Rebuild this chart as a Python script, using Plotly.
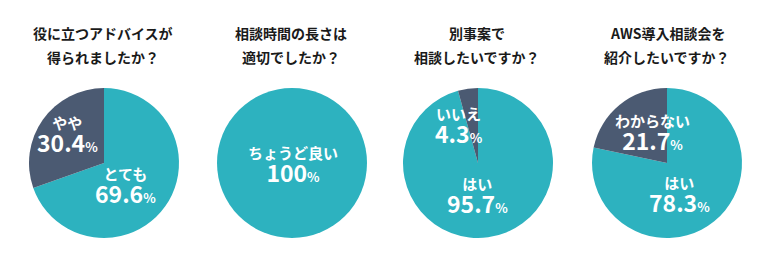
import plotly.graph_objects as go

# ---- data ----
title_line1 = ["役に立つアドバイスが", "相談時間の長さは", "別事案で", "AWS導入相談会を"]
title_line2 = ["得られましたか？", "適切でしたか？", "相談したいですか？", "紹介したいですか？"]
labels = [
    ["とても", "やや"],
    ["ちょうど良い"],
    ["はい", "いいえ"],
    ["はい", "わからない"],
]
values = [
    [69.6, 30.4],
    [100],
    [95.7, 4.3],
    [78.3, 21.7],
]
value_text = [
    ["69.6", "30.4"],
    ["100"],
    ["95.7", "4.3"],
    ["78.3", "21.7"],
]

# ---- style / layout ----
W, H = 760, 260
TEAL = "#2DB2BF"
SLATE = "#4B5A72"
FONT = "Noto Sans CJK JP"
centers_x = [104, 292, 478, 667]
center_y = 163
R = 75
title_x = [103, 291, 477, 667]
# label block centre positions (pixels) per slice
label_pos = [
    [(126, 186), (67, 135)],
    [(293, 165)],
    [(478, 196), (459, 126)],
    [(679, 195), (652, 133)],
]

fig = go.Figure()
for i in range(4):
    cx = centers_x[i]
    x0, x1 = (cx - R) / W, (cx + R) / W
    y0, y1 = 1 - (center_y + R) / H, 1 - (center_y - R) / H
    cols = [TEAL, SLATE][: len(values[i])]
    fig.add_trace(go.Pie(
        labels=labels[i], values=values[i], sort=False, direction="clockwise",
        rotation=0, textinfo="none", hoverinfo="label+percent",
        marker=dict(colors=cols, line=dict(width=0)),
        domain=dict(x=[x0, x1], y=[y0, y1]), showlegend=False,
    ))
    for line, ty in ((title_line1[i], 33), (title_line2[i], 57)):
        fig.add_annotation(
            x=title_x[i] / W, y=1 - ty / H, xref="paper", yref="paper",
            text="<b>" + line + "</b>", showarrow=False, align="center",
            font=dict(family=FONT, size=14, color="#1a1a1a"),
            xanchor="center", yanchor="middle",
        )
    for j, lab in enumerate(labels[i]):
        px, py = label_pos[i][j]
        txt = (
            "<span style='font-size:15px'><b>" + lab + "</b></span><br>"
            + "<span style='font-size:23px'><b>" + value_text[i][j] + "</b></span>"
            + "<span style='font-size:13px'><b>%</b></span>"
        )
        fig.add_annotation(
            x=px / W, y=1 - py / H, xref="paper", yref="paper",
            text=txt, showarrow=False, align="center",
            font=dict(family=FONT, size=18, color="white"),
            xanchor="center", yanchor="middle",
        )

fig.update_layout(
    width=W, height=H, margin=dict(l=0, r=0, t=0, b=0),
    paper_bgcolor="white", plot_bgcolor="white",
    font=dict(family=FONT),
)
fig.write_html("out.html")
